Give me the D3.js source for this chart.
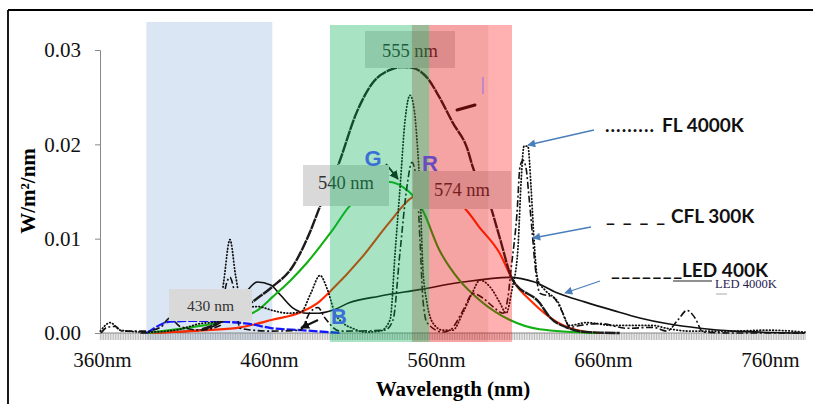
<!DOCTYPE html>
<html><head><meta charset="utf-8">
<script src="https://cdn.jsdelivr.net/npm/d3@7"></script>
<style>body{margin:0;background:#fff;}svg{display:block;}</style>
</head><body>
<script>
// ---------- data (wavelength in nm, spectral irradiance in W/m²/nm) ----------
const xTicks = [360, 460, 560, 660, 760];
const yTicks = [0, 0.01, 0.02, 0.03];

const bellNm  = [420,435,450,462,474,485,490.5,501,513,522,532.5,540,546,555,562,570,579,582,592,598,606,622,628,638,650,670];
const bellVal = [0.0004,0.0015,0.0033,0.0049,0.0070,0.0109,0.0134,0.0176,0.0236,0.0265,0.0279,0.0282,0.0281,0.0270,0.0250,0.0223,0.0194,0.0176,0.0138,0.0102,0.0056,0.0032,0.0017,0.0006,0.0001,0];

const greenNm  = [387,413,432,453,462,473,483,492,498,508,519,532,540,546,552,562,574,586,604,622,656];
const greenVal = [0,0.0006,0.0012,0.0024,0.0038,0.0056,0.0075,0.0095,0.0109,0.0134,0.0149,0.0160,0.0155,0.0146,0.0130,0.0088,0.0056,0.0035,0.0014,0.0004,0];

const redNm  = [387,423,443,462,479,490,496,516,532,546,552,562,576,586,598,606,618,632,650,658];
const redVal = [0,0.0003,0.0006,0.0014,0.0022,0.0033,0.0043,0.0081,0.0117,0.0144,0.0147,0.0143,0.0134,0.0112,0.0085,0.0056,0.0032,0.0012,0.0001,0];

const blueNm  = [387,401,419,432,447,462,479,503];
const blueVal = [0,0.0012,0.0013,0.0012,0.0010,0.0005,0.0003,0];

const ledNm  = [383,413,428,438,446,453,461,467,474,483,490,498,508,526,550,576,604,619,632,649,666,682,698,718,738,781];
const ledVal = [0,0.0002,0.0008,0.0027,0.0043,0.0054,0.0051,0.0040,0.0027,0.0021,0.0021,0.0024,0.0032,0.0039,0.0046,0.0054,0.0059,0.0054,0.0043,0.0033,0.0024,0.0016,0.0010,0.0005,0.0002,0];

const flNm  = [359,365,371,387,404,419,429.5,433,436.6,440,444,453,462,471,479,485,490.5,495,499.5,504,510,517.5,526.5,532.5,535.5,538.5,541.5,544.5,547,548.6,550.4,552.2,554.6,558,564,570,576,581.6,586.3,592.3,598.3,602,605.5,609,611,612.7,615,617,618.7,621,625,633,640,650,666,690,698,712,738,758,781];
const flVal = [0.0002,0.0011,0.0003,0.0001,0.0003,0.0010,0.0012,0.0056,0.0099,0.0061,0.0027,0.0028,0.0024,0.0021,0.0022,0.0042,0.0061,0.0046,0.0021,0.0011,0.0005,0.0001,0.0002,0.0014,0.0085,0.0155,0.0226,0.0252,0.0236,0.0205,0.0152,0.0067,0.0032,0.0011,0.0003,0.0003,0.0021,0.0042,0.0056,0.0049,0.0032,0.0021,0.0046,0.0088,0.0162,0.0198,0.0198,0.0152,0.0099,0.0056,0.0046,0.0033,0.0008,0.0011,0.0008,0.0008,0.0005,0.0002,0.0002,0.0003,0.0001];

const cflNm  = [359.5,363,368,372,386,395,400.7,406.7,419,430.7,434.3,436.6,439,442.6,460.6,478.6,484.6,489.3,493.5,502.5,529.5,534.3,538.4,542.6,545.6,548.6,550.4,552.2,554.6,564.2,568.4,576.2,582.2,588.1,594.1,600.1,603.1,604.9,608.5,610.3,612.1,613.9,615.7,617.5,619.3,622.3,630.1,636,640.2,646.2,658.2,674.4,690,698.3,704.9,710.3,715.1,719.9,738,781];
const cflVal = [0,0.0006,0.0007,0.0002,0.0002,0.0006,0.0016,0.0007,0.0003,0.0008,0.0051,0.0059,0.0046,0.0005,0.0002,0.0003,0.0022,0.0027,0.0016,0.0002,0.0003,0.0014,0.0085,0.0155,0.0181,0.0157,0.0099,0.0035,0.0011,0.0001,0.0003,0.0024,0.0042,0.0037,0.0028,0.0021,0.0038,0.0067,0.0127,0.0176,0.0183,0.0175,0.0144,0.0109,0.0072,0.0042,0.0038,0.0021,0.0006,0.0008,0.0010,0.0005,0.0006,0.0002,0.0014,0.0024,0.0016,0.0001,0,0];

// highlighted bands (nm)
const blueBand  = [386.6, 462];
const greenBand = [496.5, 556];
const oliveBand = [545.6, 556];
const redBand1  = [556, 591.5];
const redBand2  = [591.5, 605.5];

const peakLabels = ["555 nm", "540 nm", "574 nm", "430 nm"];
const legendNames = ["FL 4000K", "CFL 300K", "LED 400K", "LED 4000K"];

// ---------- drawing ----------
const W = 813, H = 404;
const svg = d3.select("body").append("svg").attr("width", W).attr("height", H);
const x = d3.scaleLinear().domain([360, 760]).range([102, 770]);
const y = d3.scaleLinear().domain([0, 0.03]).range([333, 50]);
const serif = "'Liberation Serif','Times New Roman',serif";
const sans = "Lato, 'Open Sans', sans-serif";

// frame
svg.append("line").attr("x1", 8).attr("y1", 10).attr("x2", 813).attr("y2", 10).attr("stroke", "#000").attr("stroke-width", 1.8);
svg.append("line").attr("x1", 8).attr("y1", 10).attr("x2", 8).attr("y2", 404).attr("stroke", "#000").attr("stroke-width", 1.8);

// blue band behind curves
svg.append("rect").attr("x", x(blueBand[0])).attr("width", x(blueBand[1]) - x(blueBand[0]))
  .attr("y", 22).attr("height", 318).attr("fill", "#dbe6f4");

// minor ticks along x axis (each nm)
svg.append("g").selectAll("line").data(d3.range(359, 782, 1)).join("line")
  .attr("x1", d => x(d)).attr("x2", d => x(d)).attr("y1", 333).attr("y2", 340)
  .attr("stroke", "#9a9a9a").attr("stroke-width", 0.7);

// y axis
const yAxis = svg.append("g").attr("transform", "translate(100,0)")
  .call(d3.axisLeft(y).tickValues(yTicks).tickFormat(d3.format(".2f")).tickSize(5).tickPadding(14));
yAxis.select(".domain").attr("stroke", "#888");
yAxis.selectAll(".tick line").attr("stroke", "#888");
yAxis.selectAll("text").attr("font-family", serif).attr("font-size", 21).attr("fill", "#111");

// x axis
const xAxis = svg.append("g").attr("transform", "translate(0,333)")
  .call(d3.axisBottom(x).tickValues(xTicks).tickFormat(d => d + "nm").tickSize(0));
xAxis.select(".domain").attr("stroke", "#888").attr("d", "M100,0H805");
xAxis.selectAll("text").attr("font-family", serif).attr("font-size", 21).attr("fill", "#111")
  .attr("dy", null).attr("y", 34);

// axis titles
svg.append("text").attr("x", 453).attr("y", 396).attr("text-anchor", "middle")
  .attr("font-family", serif).attr("font-weight", "bold").attr("font-size", 21).text("Wavelength (nm)");
svg.append("text").attr("transform", "translate(35,191) rotate(-90)").attr("text-anchor", "middle")
  .attr("font-family", serif).attr("font-weight", "bold").attr("font-size", 21).text("W/m²/nm");

// curves
const line = (nm, val) => d3.line().curve(d3.curveMonotoneX).x((d, i) => x(nm[i])).y((d, i) => y(val[i]))(val);
function drawCurve(nm, val, stroke, width, dash, cap) {
  svg.append("path").attr("d", line(nm, val)).attr("fill", "none")
    .attr("stroke", stroke).attr("stroke-width", width)
    .attr("stroke-dasharray", dash || null).attr("stroke-linecap", cap || "butt")
    .attr("stroke-linejoin", "round");
}
drawCurve(ledNm, ledVal, "#111", 1.6);
drawCurve(redNm, redVal, "#ff2a00", 2.1);
drawCurve(greenNm, greenVal, "#12b012", 2.1);
drawCurve(blueNm, blueVal, "#1515ff", 2.3, "9,2");
drawCurve(bellNm, bellVal, "#1b1b1b", 2.4, "11,0.8");
drawCurve(flNm, flVal, "#111", 1.8, "0.6,2.6", "round");
drawCurve(cflNm, cflVal, "#111", 1.6, "7,2.5,2,2.5");

// small black arrows
svg.append("defs").html(
  '<marker id="ahB" viewBox="0 0 10 10" refX="9" refY="5" markerWidth="9" markerHeight="9" markerUnits="userSpaceOnUse" orient="auto"><path d="M0,0L10,5L0,10z" fill="#111"/></marker>' +
  '<marker id="ahBlue" viewBox="0 0 10 10" refX="9" refY="5" markerWidth="10" markerHeight="8" markerUnits="userSpaceOnUse" orient="auto"><path d="M0,0L10,5L0,10z" fill="#4a7ebb"/></marker>');
svg.append("line").attr("x1", 386).attr("y1", 164).attr("x2", 398).attr("y2", 179)
  .attr("stroke", "#111").attr("stroke-width", 2).attr("marker-end", "url(#ahB)");
svg.append("line").attr("x1", 318).attr("y1", 320).attr("x2", 301).attr("y2", 328)
  .attr("stroke", "#111").attr("stroke-width", 2).attr("marker-end", "url(#ahB)");
svg.append("line").attr("x1", 475).attr("y1", 105).attr("x2", 457).attr("y2", 110)
  .attr("stroke", "#111").attr("stroke-width", 3).attr("stroke-linecap", "round");

// grey label boxes
const boxes = [
  {t: peakLabels[0], x0: 365, y0: 31, w: 90, h: 37, fs: 18.5, by: 57},
  {t: peakLabels[1], x0: 303, y0: 165, w: 86, h: 41, fs: 18.5, by: 189},
  {t: peakLabels[2], x0: 413, y0: 171, w: 98, h: 38, fs: 18.5, by: 196},
  {t: peakLabels[3], x0: 169, y0: 289, w: 83, h: 32, fs: 15.5, by: 311}
];
boxes.forEach(b => {
  svg.append("rect").attr("x", b.x0).attr("y", b.y0).attr("width", b.w).attr("height", b.h).attr("fill", "#d9d9d9");
  svg.append("text").attr("x", b.x0 + b.w / 2).attr("y", b.by).attr("text-anchor", "middle")
    .attr("font-family", serif).attr("font-size", b.fs).attr("fill", "#333").text(b.t);
});

// translucent green / red bands on top
const band = (r, fill) => svg.append("rect").attr("x", x(r[0])).attr("width", x(r[1]) - x(r[0]))
  .attr("y", 25).attr("height", 317).attr("fill", fill);
band(greenBand, "rgba(0,176,80,0.34)");
band(oliveBand, "rgba(120,60,20,0.25)");
band(redBand1, "rgba(230,0,0,0.36)");
band(redBand2, "rgba(255,0,0,0.31)");

// letters
svg.append("text").attr("x", 373).attr("y", 166).attr("text-anchor", "middle").attr("font-family", "'Liberation Sans',Arial,sans-serif")
  .attr("font-weight", "bold").attr("font-size", 22).attr("fill", "#3a6fd8").text("G");
svg.append("text").attr("x", 430).attr("y", 171).attr("text-anchor", "middle").attr("font-family", "'Liberation Sans',Arial,sans-serif")
  .attr("font-weight", "bold").attr("font-size", 22).attr("fill", "#6a4bbd").text("R");
svg.append("text").attr("x", 339).attr("y", 324).attr("text-anchor", "middle").attr("font-family", "'Liberation Sans',Arial,sans-serif")
  .attr("font-weight", "bold").attr("font-size", 22).attr("fill", "#3a6fd8").text("B");
svg.append("line").attr("x1", 483).attr("y1", 77).attr("x2", 483).attr("y2", 94).attr("stroke", "#b07ed6").attr("stroke-width", 1.5);

// legend
const lg = svg.append("g").attr("font-family", sans).attr("font-weight", "bold").attr("font-size", 19).attr("fill", "#111");
lg.append("text").attr("x", 605).attr("y", 132).attr("textLength", 49).text(".........");
lg.append("text").attr("x", 662).attr("y", 132).text(legendNames[0]);
lg.append("text").attr("x", 606).attr("y", 222).attr("textLength", 59).text("_ _ _ _");
lg.append("text").attr("x", 671).attr("y", 223).text(legendNames[1]);
lg.append("text").attr("x", 611).attr("y", 276).attr("textLength", 71).text("_______");
lg.append("text").attr("x", 682).attr("y", 277).text(legendNames[2]);
svg.append("line").attr("x1", 673).attr("y1", 281).attr("x2", 712).attr("y2", 281).attr("stroke", "#222").attr("stroke-width", 1.1);
svg.append("text").attr("x", 715).attr("y", 288).attr("font-family", serif).attr("font-size", 12.6).attr("fill", "#1f2050").text(legendNames[3]);
svg.append("line").attr("x1", 716).attr("y1", 294).attr("x2", 727).attr("y2", 294).attr("stroke", "#aaa").attr("stroke-width", 1);

// blue pointer arrows
[[594, 130, 528, 145], [591, 227, 533, 238], [600, 281, 565, 293]].forEach(a => {
  svg.append("line").attr("x1", a[0]).attr("y1", a[1]).attr("x2", a[2]).attr("y2", a[3])
    .attr("stroke", "#4a7ebb").attr("stroke-width", 1.3).attr("marker-end", "url(#ahBlue)");
});
</script>
</body></html>
